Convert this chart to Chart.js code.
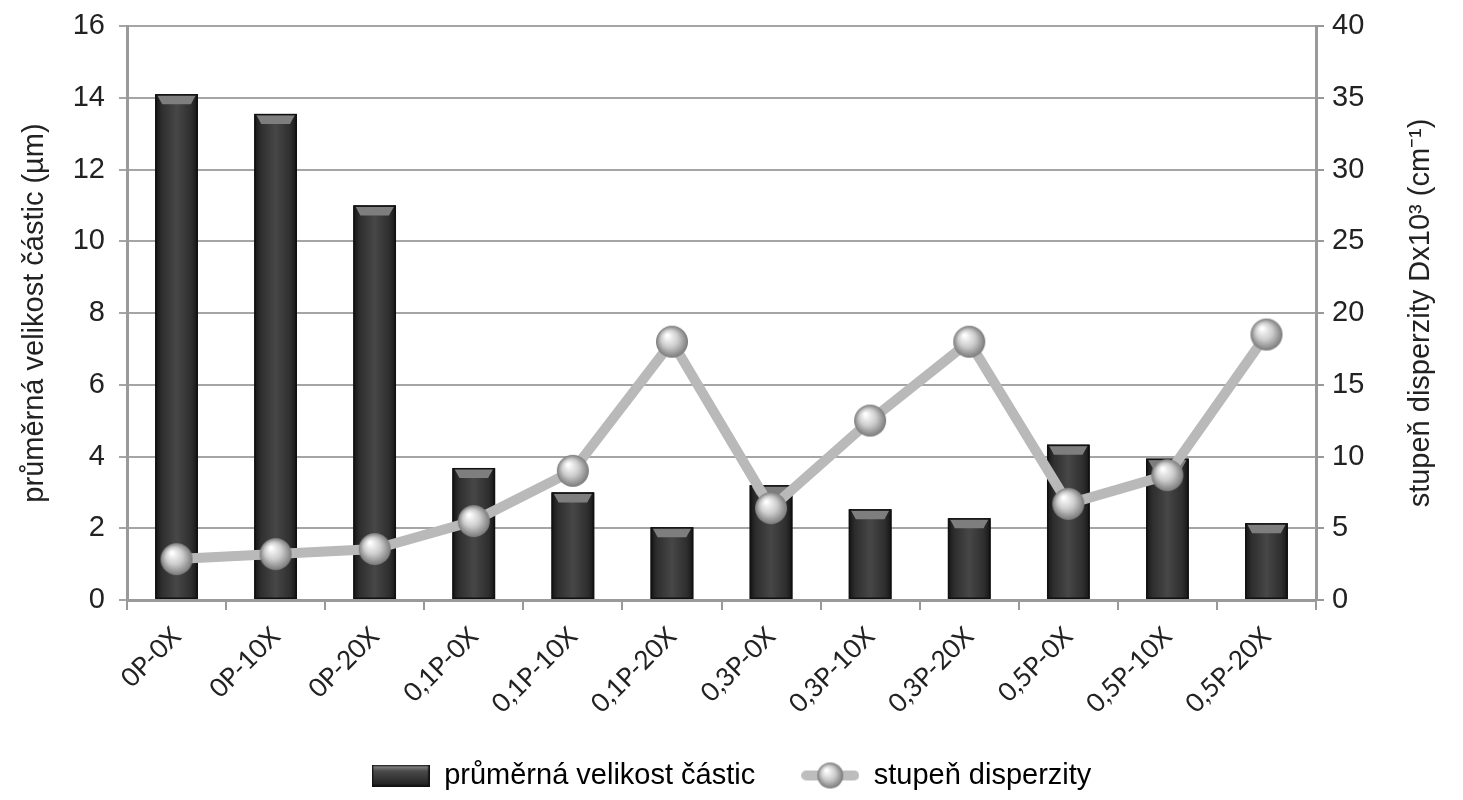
<!DOCTYPE html>
<html><head><meta charset="utf-8">
<script src="https://cdn.jsdelivr.net/npm/chart.js@4"></script>
<style>html,body{margin:0;padding:0;background:#fff}#wrap{width:1463px;height:800px}</style>
</head><body><div id="wrap"><canvas id="c" width="1463" height="800"></canvas></div>
<script>
const categories = ['0P-0X','0P-10X','0P-20X','0,1P-0X','0,1P-10X','0,1P-20X','0,3P-0X','0,3P-10X','0,3P-20X','0,5P-0X','0,5P-10X','0,5P-20X'];
const particleSize = [14.1, 13.55, 11.0, 3.68, 3.0, 2.03, 3.2, 2.53, 2.28, 4.33, 3.94, 2.14];
const dispersity = [2.85, 3.2, 3.55, 5.5, 9.0, 18.0, 6.4, 12.5, 18.0, 6.7, 8.7, 18.5];
const leftTicks = [0,2,4,6,8,10,12,14,16];
const rightTicks = [0,5,10,15,20,25,30,35,40];
const leftTitle = 'průměrná velikost částic (µm)';
const rightTitle = 'stupeň disperzity Dx10³ (cm⁻¹)';

function drawBall(g,cx,cy,r){
  const grd=g.createRadialGradient(cx-r*0.3,cy-r*0.4,1,cx,cy,r);
  grd.addColorStop(0,'#ffffff'); grd.addColorStop(0.5,'#cdcdcd'); grd.addColorStop(1,'#7a7a7a');
  g.fillStyle=grd; g.beginPath(); g.arc(cx,cy,r,0,Math.PI*2); g.fill();
}
function sphere(r){
  const c=document.createElement('canvas'); c.width=c.height=r*2+2;
  drawBall(c.getContext('2d'),r+1,r+1,r);
  return c;
}
const ball = sphere(16);
function legendLine(){
  const c=document.createElement('canvas'); c.width=58; c.height=28;
  const g=c.getContext('2d');
  g.strokeStyle='#bdbdbd'; g.lineWidth=10; g.lineCap='round';
  g.beginPath(); g.moveTo(5,14); g.lineTo(53,14); g.stroke();
  drawBall(g,29,14,13);
  return c;
}
function legendBar(){
  const c=document.createElement('canvas'); c.width=58; c.height=22;
  const g=c.getContext('2d');
  const grd=g.createLinearGradient(0,0,0,22);
  grd.addColorStop(0,'#9a9a9a'); grd.addColorStop(0.3,'#4a4a4a'); grd.addColorStop(1,'#1e1e1e');
  g.fillStyle=grd; g.fillRect(0,0,58,22);
  g.strokeStyle='#111'; g.lineWidth=1.5; g.strokeRect(0.75,0.75,56.5,20.5);
  return c;
}

const barStyle = {
  id:'barStyle',
  afterDatasetDraw(chart,args){
    if(args.index!==0) return;
    const g=chart.ctx;
    args.meta.data.forEach(el=>{
      const {x,y,base,width}=el.getProps(['x','y','base','width'],true);
      const l=x-width/2, r=x+width/2;
      const grd=g.createLinearGradient(l,0,r,0);
      grd.addColorStop(0,'#151515'); grd.addColorStop(0.15,'#2e2e2e'); grd.addColorStop(0.5,'#474747');
      grd.addColorStop(0.85,'#2e2e2e'); grd.addColorStop(1,'#151515');
      g.save();
      g.fillStyle=grd; g.fillRect(l,y,width,base-y);
      const b=Math.min(10,(base-y)/3);
      g.fillStyle='#7e7e7e';
      g.beginPath(); g.moveTo(l+2,y+1); g.lineTo(r-2,y+1); g.lineTo(r-7,y+b); g.lineTo(l+7,y+b); g.closePath(); g.fill();
      g.strokeStyle='#111'; g.lineWidth=1.5; g.strokeRect(l+0.75,y+0.75,width-1.5,base-y-1.5);
      g.restore();
    });
  }
};
const rightTitlePlugin = {
  id:'rightTitle',
  afterDraw(chart){
    const g=chart.ctx, a=chart.chartArea;
    g.save();
    g.translate(chart.scales.y2.right-42, (a.top+a.bottom)/2);
    g.rotate(-Math.PI/2);
    g.font='29px "Liberation Sans", Arial, sans-serif';
    g.fillStyle='#222'; g.textAlign='center'; g.textBaseline='middle';
    g.fillText(rightTitle,0,0);
    g.restore();
  }
};

const fontNum = {family:'"Liberation Sans", Arial, sans-serif', size:29};
new Chart(document.getElementById('c'), {
  data:{
    labels:categories,
    datasets:[
      {type:'bar', label:'průměrná velikost částic', data:particleSize, yAxisID:'y',
       backgroundColor:'#363636', borderColor:'#161616', borderWidth:0,
       barPercentage:0.43, categoryPercentage:1, order:1},
      {type:'line', label:'stupeň disperzity', data:dispersity, yAxisID:'y2',
       borderColor:'#b9b9b9', backgroundColor:'#b9b9b9', borderWidth:10,
       pointStyle:ball, pointRadius:16, pointHoverRadius:16, order:0}
    ]
  },
  plugins:[barStyle, rightTitlePlugin],
  options:{
    responsive:false, animation:false,
    layout:{padding:{top:24,bottom:0,left:0,right:0}},
    plugins:{
      tooltip:{enabled:false},
      legend:{position:'bottom', labels:{
        font:{family:'"Liberation Sans", Arial, sans-serif', size:29}, color:'#222',
        usePointStyle:true, pointStyleWidth:58, padding:46,
        sort:(a,b)=>a.datasetIndex-b.datasetIndex,
        generateLabels:(chart)=>[
          {text:'průměrná velikost částic', pointStyle:legendBar(), fillStyle:'#363636', strokeStyle:'#161616', lineWidth:0, datasetIndex:0},
          {text:'stupeň disperzity', pointStyle:legendLine(), fillStyle:'#bdbdbd', strokeStyle:'#bdbdbd', lineWidth:0, datasetIndex:1}
        ]}}
    },
    scales:{
      x:{offset:true,
         grid:{display:true, drawOnChartArea:false, offset:true, color:'#999', lineWidth:2, tickLength:10},
         border:{color:'#9a9a9a', width:3},
         ticks:{maxRotation:45, minRotation:45, color:'#222', font:{family:'Lato, "Open Sans", sans-serif', size:26}, padding:11},
         afterFit:(s)=>{s.height=115; s.paddingLeft=0; s.paddingRight=0;}
      },
      y:{position:'left', min:0, max:16,
         afterBuildTicks:(s)=>{s.ticks=leftTicks.map(v=>({value:v}));},
         grid:{color:'#a5a5a5', lineWidth:2, tickLength:8},
         border:{color:'#9a9a9a', width:3},
         ticks:{color:'#222', font:fontNum, padding:14},
         title:{display:true, text:leftTitle, color:'#222', font:fontNum, padding:{top:18,bottom:8}},
         afterFit:(s)=>{s.width=127; s.paddingTop=0; s.paddingBottom=0;}
      },
      y2:{position:'right', min:0, max:40,
         afterBuildTicks:(s)=>{s.ticks=rightTicks.map(v=>({value:v}));},
         grid:{drawOnChartArea:false, color:'#999', lineWidth:2, tickLength:8},
         border:{color:'#9a9a9a', width:3},
         ticks:{color:'#222', font:fontNum, padding:8},
         afterFit:(s)=>{s.width=147; s.paddingTop=0; s.paddingBottom=0;}
      }
    }
  }
});
</script></body></html>
